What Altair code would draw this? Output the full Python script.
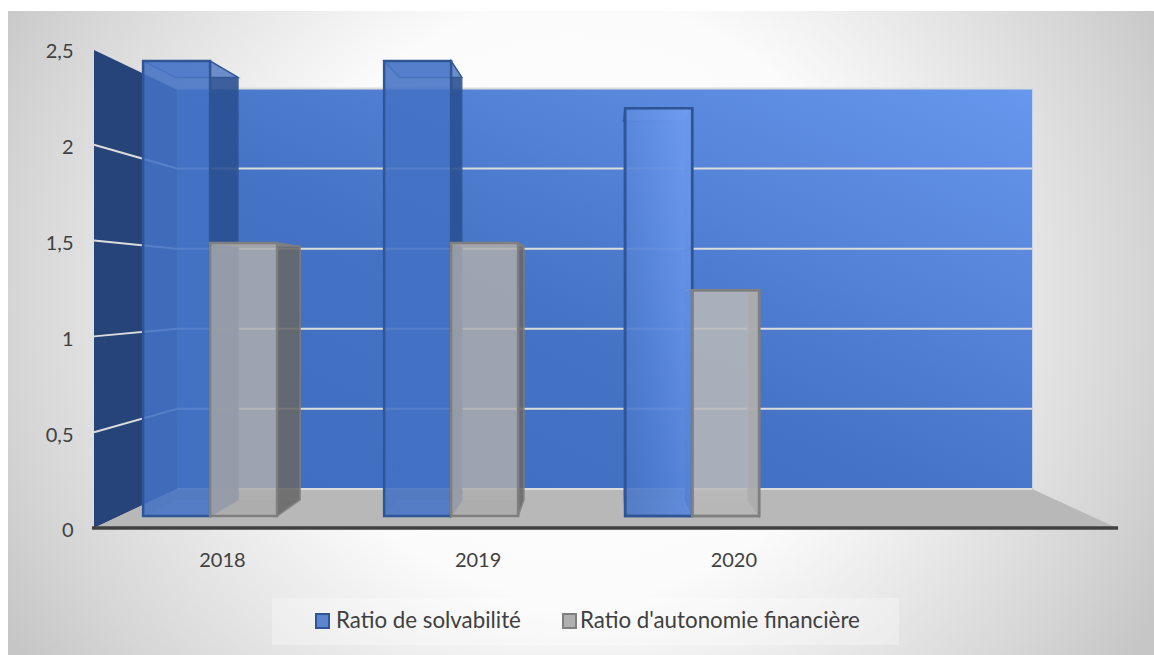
import json
import altair as alt
import pandas as pd

# ---- chart values ----
years = ["2018", "2019", "2020"]
series_names = ["Ratio de solvabilité", "Ratio d'autonomie financière"]
solvabilite = [2.5, 2.5, 2.24]
autonomie = [1.5, 1.5, 1.24]
y_ticks = [0, 0.5, 1, 1.5, 2, 2.5]

# ---- perspective model, in axis units (category slots on x, ratio on y) ----
VANISH_X, VANISH_Y = 1.978, 1.242
DEPTH_FRONT, BAR_FRONT, BAR_BACK, DEPTH_WALL = 1.0, 0.95, 0.882, 0.836
SLOTS = 4
AXIS_MAX = 2.5
BAR_W = 0.2757
BAR_START, BAR_STEP = 0.098, 0.992


def px(u, s):
    return VANISH_X + (u - VANISH_X) * s


def py(v, s):
    return VANISH_Y + (v - VANISH_Y) * s


def upright(name, u0, s0, u1, s1, v0, v1, **extra):
    """Quad whose two side edges are vertical on screen."""
    return [
        dict(face=name, x=px(u0, s0), y=py(v0, s0), y2=py(v1, s0), **extra),
        dict(face=name, x=px(u1, s1), y=py(v0, s1), y2=py(v1, s1), **extra),
    ]


def flat(name, u0, u1, s0, s1, v, **extra):
    """Quad whose top and bottom edges are horizontal on screen."""
    return [
        dict(face=name, y=py(v, s0), x=px(u0, s0), x2=px(u1, s0), **extra),
        dict(face=name, y=py(v, s1), x=px(u0, s1), x2=px(u1, s1), **extra),
    ]


PALETTE = {
    series_names[0]: dict(
        front="rgba(68,114,196,0.8)", stroke="#2f5597", inner="#3f6cc0", side="#2a4f90",
        top="#7a9ad8", bottom="#7a9ad8", inner_alpha=0.35, swatch="#5b86cf",
    ),
    series_names[1]: dict(
        front="rgba(174,174,174,0.8)", stroke="#7f7f7f", inner="#a8a8a8", side="#666666",
        top="#8a8a8a", bottom="#a0a0a0", inner_alpha=0.2, swatch="#b0b0b0",
    ),
}

rows_inner, rows_bottom, rows_right, rows_top, rows_front = [], [], [], [], []
for i, year in enumerate(years):
    for j, (series, values) in enumerate(zip(series_names, [solvabilite, autonomie])):
        val = values[i]
        u0 = BAR_START + BAR_STEP * i + BAR_W * j
        u1 = u0 + BAR_W
        p = PALETTE[series]
        tag = dict(series=series, year=year)
        rows_inner += upright(f"{year}{j}b", u0, BAR_BACK, u1, BAR_BACK, 0, val,
                              fill=p["inner"], **tag)
        rows_inner += upright(f"{year}{j}l", u0, BAR_FRONT, u0, BAR_BACK, 0, val,
                              fill=p["inner"], **tag)
        rows_bottom += flat(f"{year}{j}d", u0, u1, BAR_FRONT, BAR_BACK, 0,
                            fill=p["bottom"], **tag)
        rows_right += upright(f"{year}{j}r", u1, BAR_BACK, u1, BAR_FRONT, 0, val,
                              fill=p["side"], stroke=p["stroke"], **tag)
        rows_top += flat(f"{year}{j}t", u0, u1, BAR_FRONT, BAR_BACK, val,
                         fill=p["top"], stroke=p["stroke"], **tag)
        rows_front += upright(f"{year}{j}f", u0, BAR_FRONT, u1, BAR_FRONT, 0, val, **tag)

inner_df = pd.DataFrame(rows_inner)
bottom_df = pd.DataFrame(rows_bottom)
right_df = pd.DataFrame(rows_right)
top_df = pd.DataFrame(rows_top)
front_df = pd.DataFrame(rows_front)

# Walls and floor
back_wall = pd.DataFrame(upright("wall", 0, DEPTH_WALL, SLOTS, DEPTH_WALL, 0, AXIS_MAX))
side_wall = pd.DataFrame(upright("side", 0, DEPTH_FRONT, 0, DEPTH_WALL, 0, AXIS_MAX))
floor = pd.DataFrame(flat("floor", 0, SLOTS, DEPTH_FRONT, DEPTH_WALL, 0))

# Gridlines run along the side wall, then across the back wall
grid_rows = []
for t in y_ticks[1:]:
    for g, pts in (
        ("s", [(0, DEPTH_FRONT), (0, DEPTH_WALL)]),
        ("b", [(0, DEPTH_WALL), (SLOTS, DEPTH_WALL)]),
    ):
        for u, s in pts:
            grid_rows.append(dict(line=f"{t}{g}", x=px(u, s), y=py(t, s)))
grid_rows += [
    dict(line="floor", x=px(0, DEPTH_WALL), y=py(0, DEPTH_WALL)),
    dict(line="floor", x=px(SLOTS, DEPTH_WALL), y=py(0, DEPTH_WALL)),
]
grid_df = pd.DataFrame(grid_rows)

baseline = pd.DataFrame({"x": [-0.008], "x2": [SLOTS + 0.004], "y": [0.0]})

# ---- scales and axes shared by all layers ----
TEXT = "#404040"
FONT = "Lato"

x_scale = alt.Scale(domain=[-0.3363, 4.1447], nice=False, zero=False)
y_scale = alt.Scale(domain=[-0.6628, 2.698], nice=False, zero=False)
x_axis = alt.Axis(
    values=[i + 0.5 for i in range(len(years))],
    labelExpr=f"{json.dumps(years)}[floor(datum.value)]",
    title=None, grid=False, domain=False, ticks=False, orient="bottom",
    offset=-127, labelPadding=22, labelFontSize=20, labelFont=FONT,
    labelColor=TEXT, zindex=2,
)
y_axis = alt.Axis(
    values=y_ticks,
    labelExpr="replace(format(datum.value, '~g'), '.', ',')",
    title=None, grid=False, domain=False, ticks=False, orient="left",
    offset=-65, labelPadding=0, labelFontSize=20, labelFont=FONT,
    labelColor=TEXT, labelOffset=3, zindex=2,
)
X = alt.X("x:Q", scale=x_scale, axis=x_axis)
Y = alt.Y("y:Q", scale=y_scale, axis=y_axis)
X2, Y2 = alt.X2("x2:Q"), alt.Y2("y2:Q")

fill_scale = alt.Scale(domain=series_names, range=[PALETTE[s]["front"] for s in series_names])
stroke_scale = alt.Scale(domain=series_names, range=[PALETTE[s]["stroke"] for s in series_names])


def stops(*pairs):
    return [alt.GradientStop(color=c, offset=o) for c, o in pairs]


one_row = alt.Data(values=[{}])

# Page backdrop: a circular glow, drawn as a large square clipped by the plot
backdrop = (
    alt.Chart(one_row)
    .mark_rect(
        clip=True,
        fill=alt.RadialGradient(
            gradient="radial",
            stops=stops(("#ffffff", 0), ("#fbfbfb", 0.45), ("#d6d6d6", 0.85), ("#c6c6c6", 1)),
            x1=0.5, y1=0.5, r1=0, x2=0.5, y2=0.5, r2=0.5,
        ),
    )
    .encode(x=alt.value(-91), x2=alt.value(1229), y=alt.value(-371), y2=alt.value(949))
)

# Legend strip: a pale panel holding one swatch and label per series
legend_panel = (
    alt.Chart(one_row)
    .mark_rect(fill="#ffffff", opacity=0.3)
    .encode(x=alt.value(264), x2=alt.value(891), y=alt.value(587), y2=alt.value(634))
)
legend_layers = []
for name, swatch_x, label_x in zip(series_names, [308, 555], [328, 572]):
    legend_layers.append(
        alt.Chart(one_row)
        .mark_rect(fill=PALETTE[name]["swatch"], stroke=PALETTE[name]["stroke"], strokeWidth=2)
        .encode(
            x=alt.value(swatch_x), x2=alt.value(swatch_x + 13),
            y=alt.value(603), y2=alt.value(617),
        )
    )
    legend_layers.append(
        alt.Chart(one_row)
        .mark_text(
            text=name, align="left", baseline="middle",
            font=FONT, fontSize=22.3, color=TEXT,
        )
        .encode(x=alt.value(label_x), y=alt.value(610))
    )

wall_layer = alt.Chart(back_wall).mark_area(
    fill=alt.LinearGradient(
        gradient="linear",
        stops=stops(("#3f6ec2", 0), ("#4472c4", 0.42), ("#6797ee", 1)),
        x1=0, y1=1, x2=1, y2=0,
    )
).encode(x=X, y=Y, y2=Y2, detail="face:N")

side_layer = alt.Chart(side_wall).mark_area(fill="#264478").encode(
    x=X, y=Y, y2=Y2, detail="face:N"
)

floor_layer = alt.Chart(floor).mark_area(orient="horizontal", fill="#b8b8b8").encode(
    y=Y, x=X, x2=X2, detail="face:N"
)

grid_layer = alt.Chart(grid_df).mark_line(color="#dcdcdc", strokeWidth=2).encode(
    x=X, y=Y, detail="line:N"
)


def series_only(df, name):
    return df[df["series"] == name]


def inner_faces(name):
    alpha = PALETTE[name]["inner_alpha"]
    inner = alt.Chart(series_only(inner_df, name)).mark_area(opacity=alpha).encode(
        x=X, y=Y, y2=Y2, detail="face:N", fill=alt.Fill("fill:N", scale=None)
    )
    bottom = alt.Chart(series_only(bottom_df, name)).mark_area(
        orient="horizontal", opacity=0.55
    ).encode(y=Y, x=X, x2=X2, detail="face:N", fill=alt.Fill("fill:N", scale=None))
    return [inner, bottom]


def outer_faces(name):
    right = alt.Chart(series_only(right_df, name)).mark_area(
        opacity=0.85, strokeWidth=1.5
    ).encode(
        x=X, y=Y, y2=Y2, detail="face:N",
        fill=alt.Fill("fill:N", scale=None), stroke=alt.Stroke("stroke:N", scale=None),
    )
    top = alt.Chart(series_only(top_df, name)).mark_area(
        orient="horizontal", opacity=0.75, strokeWidth=1.5
    ).encode(
        y=Y, x=X, x2=X2, detail="face:N",
        fill=alt.Fill("fill:N", scale=None), stroke=alt.Stroke("stroke:N", scale=None),
    )
    front = alt.Chart(series_only(front_df, name)).mark_area(
        opacity=1, strokeWidth=2.5
    ).encode(
        x=X, y=Y, y2=Y2, detail="face:N",
        fill=alt.Fill("series:N", scale=fill_scale, legend=None),
        stroke=alt.Stroke("series:N", scale=stroke_scale, legend=None),
    )
    return [right, top, front]


# Grey inner faces sit behind the blue bar, which overlaps them near the vanishing point
bar_layers = (
    inner_faces(series_names[1])
    + inner_faces(series_names[0])
    + outer_faces(series_names[0])
    + outer_faces(series_names[1])
)

# The latest year's bars catch more light toward the upper right
latest = front_df[front_df["year"] == years[2]]
glow_blue = alt.Chart(latest[latest["series"] == series_names[0]]).mark_area(
    fill=alt.LinearGradient(
        gradient="linear",
        stops=stops(("rgba(120,165,250,0)", 0), ("rgba(120,165,250,0.35)", 0.45), ("rgba(120,165,250,0.8)", 1)),
        x1=0, y1=1, x2=1, y2=0,
    ),
    stroke="#2f5597", strokeWidth=2.5,
).encode(x=X, y=Y, y2=Y2, detail="face:N")
glow_grey = alt.Chart(latest[latest["series"] == series_names[1]]).mark_area(
    fill="rgba(255,255,255,0.12)", stroke="#7f7f7f", strokeWidth=2.5,
).encode(x=X, y=Y, y2=Y2, detail="face:N")

baseline_layer = alt.Chart(baseline).mark_rule(color="#404040", strokeWidth=3.5).encode(
    x=X, x2=X2, y=Y
)

chart = alt.layer(
    backdrop, legend_panel, *legend_layers, wall_layer, side_layer, floor_layer, grid_layer,
    *bar_layers, glow_blue, glow_grey, baseline_layer,
).properties(
    width=1146,
    height=644,
    padding={"left": 8, "top": 11, "right": 0, "bottom": 0},
    autosize=alt.AutoSizeParams(type="none"),
    background="#ffffff",
).configure_view(stroke=None)

chart.save("out.html", embed_options={"renderer": "svg", "actions": False})
